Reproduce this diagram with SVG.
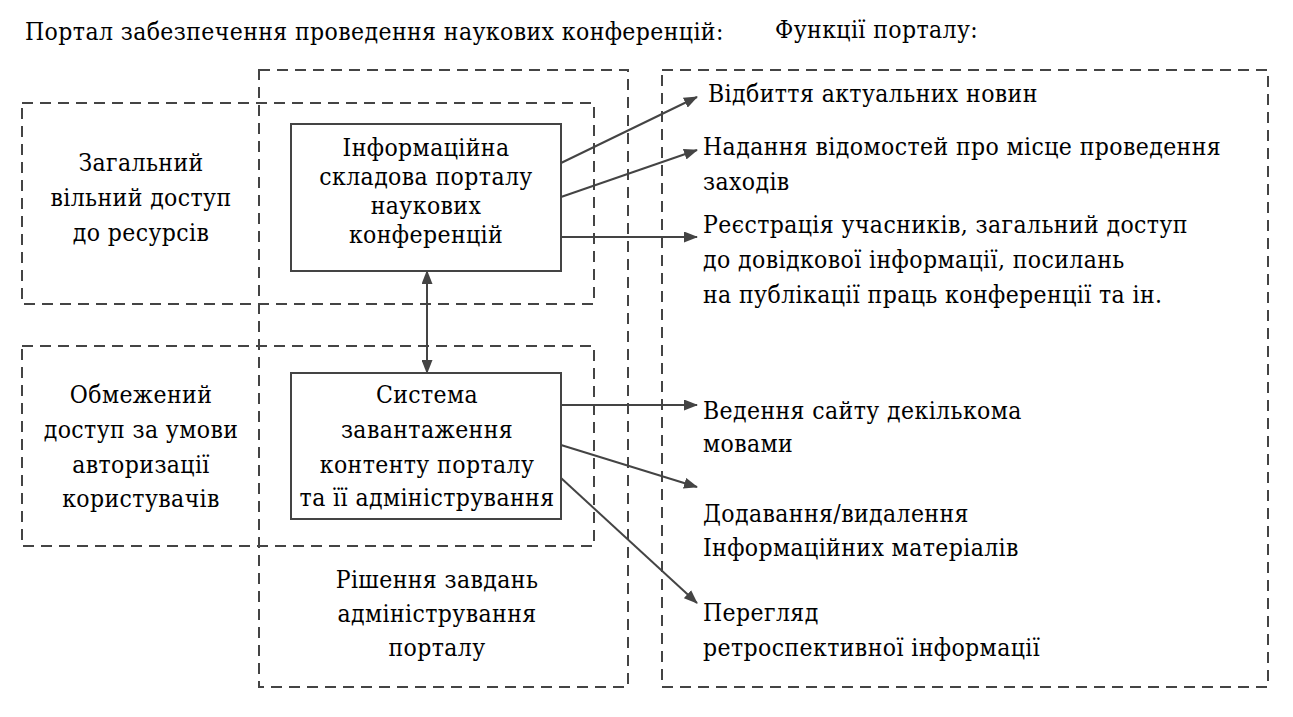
<svg xmlns="http://www.w3.org/2000/svg" width="1293" height="717" viewBox="0 0 1293 717">
<defs>
<style>
.t{font-family:'DejaVu Serif Condensed','DejaVu Serif',serif;font-stretch:condensed;font-size:24.5px;letter-spacing:0.4px;fill:#000}
.c{text-anchor:middle}
.dash{fill:none;stroke:#444;stroke-width:2;stroke-dasharray:11 7}
.box{fill:#fff;stroke:#444;stroke-width:2}
.ln{fill:none;stroke:#444;stroke-width:2}
</style>
<marker id="ah" viewBox="0 0 14 11" refX="13" refY="5.5" markerWidth="14" markerHeight="11" markerUnits="userSpaceOnUse" orient="auto-start-reverse">
<path d="M0,0 L14,5.5 L0,11 z" fill="#444"/>
</marker>
</defs>
<rect width="1293" height="717" fill="#fff"/>
<g class="t">
<text x="25" y="40">Портал забезпечення проведення наукових конференцій:</text>
<text x="775" y="38">Функції порталу:</text>
</g>
<g id="zone-admin" class="t">
<rect class="dash" x="259" y="70" width="369" height="617"/>
<text class="c" x="437" y="588">Рішення завдань</text>
<text class="c" x="437" y="622">адміністрування</text>
<text class="c" x="437" y="656">порталу</text>
</g>
<g id="zone-free" class="t">
<rect class="dash" x="22" y="103" width="572" height="201"/>
<text class="c" x="141" y="171">Загальний</text>
<text class="c" x="141" y="206">вільний доступ</text>
<text class="c" x="141" y="241">до ресурсів</text>
</g>
<g id="zone-restricted" class="t">
<rect class="dash" x="22" y="346" width="572" height="200"/>
<text class="c" x="141" y="403">Обмежений</text>
<text class="c" x="141" y="438">доступ за умови</text>
<text class="c" x="141" y="473">авторизації</text>
<text class="c" x="141" y="507">користувачів</text>
</g>
<g id="zone-functions">
<rect class="dash" x="662" y="70" width="606" height="617"/>
</g>
<g id="node-info" class="t">
<rect class="box" x="291" y="124" width="270" height="147"/>
<text class="c" x="426" y="156">Інформаційна</text>
<text class="c" x="426" y="185">складова порталу</text>
<text class="c" x="426" y="214">наукових</text>
<text class="c" x="426" y="243">конференцій</text>
</g>
<g id="node-system" class="t">
<rect class="box" x="291" y="373" width="270" height="146"/>
<text class="c" x="427" y="403">Система</text>
<text class="c" x="427" y="438">завантаження</text>
<text class="c" x="427" y="473">контенту порталу</text>
<text class="c" x="427" y="506">та її адміністрування</text>
</g>
<g id="functions" class="t">
<text x="708" y="102">Відбиття актуальних новин</text>
<text x="703" y="155">Надання відомостей про місце проведення</text>
<text x="703" y="190">заходів</text>
<text x="703" y="233">Реєстрація учасників, загальний доступ</text>
<text x="703" y="268">до довідкової інформації, посилань</text>
<text x="703" y="303">на публікації праць конференції та ін.</text>
<text x="703" y="419">Ведення сайту декількома</text>
<text x="703" y="452">мовами</text>
<text x="703" y="522">Додавання/видалення</text>
<text x="703" y="556">Інформаційних матеріалів</text>
<text x="703" y="621">Перегляд</text>
<text x="703" y="656">ретроспективної інформації</text>
</g>
<g id="connectors">
<line class="ln" x1="427" y1="271" x2="427" y2="373" marker-start="url(#ah)" marker-end="url(#ah)"/>
<line class="ln" x1="561" y1="163" x2="697" y2="97" marker-end="url(#ah)"/>
<line class="ln" x1="561" y1="197" x2="697" y2="150" marker-end="url(#ah)"/>
<line class="ln" x1="561" y1="237" x2="697" y2="237" marker-end="url(#ah)"/>
<line class="ln" x1="561" y1="405" x2="697" y2="405" marker-end="url(#ah)"/>
<line class="ln" x1="561" y1="445" x2="697" y2="487" marker-end="url(#ah)"/>
<line class="ln" x1="561" y1="478" x2="697" y2="603" marker-end="url(#ah)"/>
</g>
</svg>
